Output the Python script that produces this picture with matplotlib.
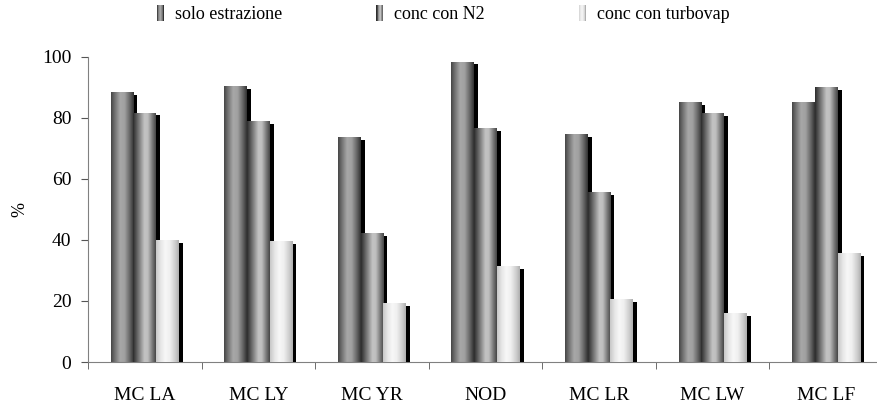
import numpy as np
import matplotlib
matplotlib.use("Agg")
import matplotlib.pyplot as plt
from matplotlib.patches import Rectangle
from matplotlib.legend_handler import HandlerBase

plt.rcParams['font.family'] = ['Liberation Serif', 'DejaVu Serif']

categories = ["MC LA", "MC LY", "MC YR", "NOD", "MC LR", "MC LW", "MC LF"]
series_names = ["solo estrazione", "conc con N2", "conc con turbovap"]
solo_estrazione = [88.2, 90.1, 73.6, 98.2, 74.6, 84.8, 84.8]
conc_n2 = [81.5, 78.6, 42.0, 76.3, 55.6, 81.2, 89.7]
conc_turbovap = [39.8, 39.4, 19.0, 31.1, 20.4, 16.0, 35.6]
series_values = [solo_estrazione, conc_n2, conc_turbovap]

# horizontal "cylinder" shading per series: (position across bar, grey level)
profiles = [
    ([0.0, 0.15, 0.4, 0.6, 0.85, 1.0], [70, 110, 168, 160, 95, 50]),
    ([0.0, 0.15, 0.5, 0.65, 0.88, 1.0], [45, 90, 195, 190, 110, 70]),
    ([0.0, 0.2, 0.4, 0.6, 0.85, 1.0], [200, 230, 247, 240, 205, 175]),
]


def gradient(j, n=64):
    xs, gs = profiles[j]
    g = np.interp(np.linspace(0, 1, n), xs, gs) / 255.0
    return g


class GradHandler(HandlerBase):
    def __init__(self, j):
        super().__init__()
        self.j = j

    def create_artists(self, legend, orig_handle, xdescent, ydescent,
                       width, height, fontsize, trans):
        g = gradient(self.j, 10)
        arts = []
        w = width / len(g)
        for k, v in enumerate(g):
            r = Rectangle((-xdescent + k * w, -ydescent - 1.5), w * 1.05, height + 3,
                          facecolor=(v, v, v), edgecolor='none', transform=trans)
            arts.append(r)
        return arts


fig = plt.figure(figsize=(8.77, 4.03), dpi=100)
ax = fig.add_axes([0.1003, 0.1017, 0.9065, 0.758])

bw = 0.2
x = np.arange(len(categories))
sx = 0.035   # shadow offset (x units)
sy = 0.8     # shadow drop (y units)
handles = []
for j, vals in enumerate(series_values):
    g = gradient(j)
    img = np.dstack([g, g, g])
    for i, v in enumerate(vals):
        left = x[i] + (j - 1) * bw - bw / 2
        ax.bar(left + bw + sx / 2, v - sy, width=sx, bottom=0, color='black',
               align='center', zorder=1 + j * 2, linewidth=0)
        ax.imshow(img, extent=(left, left + bw, 0, v), aspect='auto',
                  interpolation='bilinear', zorder=2 + j * 2)
    h = Rectangle((0, 0), 1, 1, label=series_names[j])
    handles.append(h)

ax.set_xlim(-0.5, len(categories) - 0.5)
ax.set_ylim(0, 100)
ax.set_yticks(np.arange(0, 101, 20))
ax.set_xticks(x)
ax.set_xticklabels(categories, fontsize=14)
ax.set_xticks(np.arange(-0.5, len(categories) + 0.5, 1), minor=True)
ax.tick_params(axis='x', which='major', length=0, pad=18)
ax.tick_params(axis='x', which='minor', length=5, color='#555555', direction='out')
ax.tick_params(axis='y', length=5, color='#555555', labelsize=14, pad=7)
ax.spines['top'].set_visible(False)
ax.spines['right'].set_visible(False)
ax.spines['left'].set_color('#808080')
ax.spines['bottom'].set_color('#808080')
ax.set_ylabel('%', fontsize=13)
ax.yaxis.set_label_coords(-0.075, 0.5)

fig.legend(handles=handles, labels=series_names, ncol=3, frameon=False,
           loc='center left', bbox_to_anchor=(0.179, 0.963),
           handler_map={handles[j]: GradHandler(j) for j in range(3)},
           handlelength=0.4, handleheight=0.7, handletextpad=0.6,
           columnspacing=5.2, fontsize=13, borderaxespad=0, borderpad=0)

fig.savefig('out.png', dpi=100, facecolor='white')
